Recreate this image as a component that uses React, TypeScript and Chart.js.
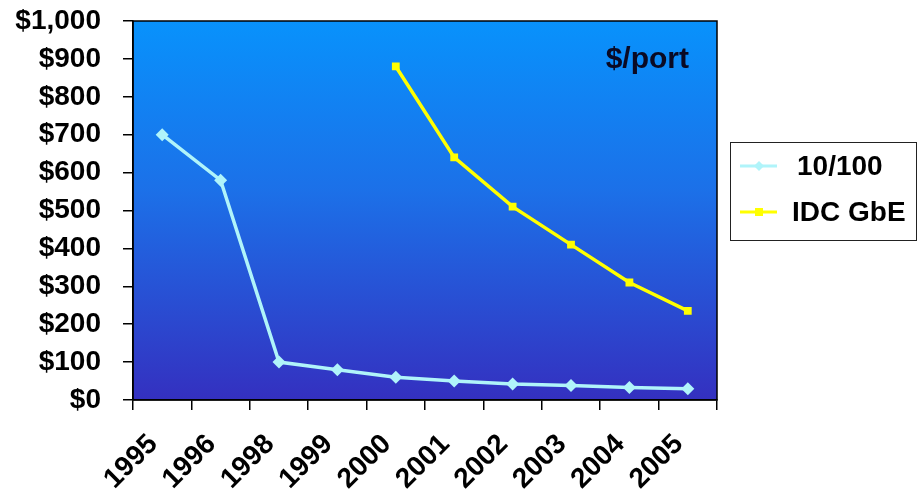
import React, { useEffect, useRef } from "react";
import { Chart, registerables } from "chart.js";

Chart.register(...registerables);

const years = ["1995", "1996", "1998", "1999", "2000", "2001", "2002", "2003", "2004", "2005"];
const fastEthernet = [700, 580, 100, 80, 60, 50, 42, 38, 33, 30];
const idcGbE = [null, null, null, null, 880, 640, 510, 410, 310, 235];
const yTicks = [0, 100, 200, 300, 400, 500, 600, 700, 800, 900, 1000];

const FONT = "'Liberation Sans', Arial, sans-serif";

const framePlugin = {
  id: "frame",
  beforeDraw(chart: any) {
    const { ctx, chartArea: a } = chart;
    const g = ctx.createLinearGradient(0, a.top, 0, a.bottom);
    g.addColorStop(0, "rgb(8,146,252)");
    g.addColorStop(0.45, "rgb(28,112,232)");
    g.addColorStop(1, "rgb(52,48,192)");
    ctx.save();
    ctx.fillStyle = g;
    ctx.fillRect(a.left, a.top, a.right - a.left, a.bottom - a.top);
    ctx.restore();
  },
  afterDraw(chart: any) {
    const { ctx, chartArea: a } = chart;
    ctx.save();
    ctx.strokeStyle = "#000";
    ctx.lineWidth = 1.5;
    ctx.strokeRect(a.left, a.top, a.right - a.left, a.bottom - a.top);

    // unit caption inside the plot
    ctx.fillStyle = "#0a0a24";
    ctx.font = `bold 30px ${FONT}`;
    ctx.textAlign = "right";
    ctx.textBaseline = "middle";
    ctx.fillText("$/port", 689, 60);

    // legend box
    const bx = 730, by = 142, bw = 186, bh = 98;
    ctx.fillStyle = "#fff";
    ctx.fillRect(bx, by, bw, bh);
    ctx.strokeStyle = "#222";
    ctx.lineWidth = 1;
    ctx.strokeRect(bx + 0.5, by + 0.5, bw, bh);

    const items = chart.data.datasets.map((ds: any, i: number) => ({
      label: ds.label,
      color: ds.borderColor,
      style: ds.pointStyle,
      y: by + 24 + i * 46,
      tx: i === 0 ? 797 : 792,
    }));
    items.forEach((it: any) => {
      ctx.strokeStyle = it.color;
      ctx.lineWidth = 3;
      ctx.beginPath();
      ctx.moveTo(740, it.y);
      ctx.lineTo(777, it.y);
      ctx.stroke();
      ctx.fillStyle = it.color;
      ctx.beginPath();
      if (it.style === "rectRot") {
        ctx.moveTo(759, it.y - 5);
        ctx.lineTo(764, it.y);
        ctx.lineTo(759, it.y + 5);
        ctx.lineTo(754, it.y);
        ctx.closePath();
      } else {
        ctx.rect(755, it.y - 4, 8, 8);
      }
      ctx.fill();
      ctx.fillStyle = "#000";
      ctx.font = `bold 28px ${FONT}`;
      ctx.textAlign = "left";
      ctx.textBaseline = "middle";
      ctx.fillText(it.label, it.tx, it.y + 1);
    });
    ctx.restore();
  },
};

export default function App() {
  const ref = useRef<HTMLCanvasElement>(null);

  useEffect(() => {
    if (!ref.current) return;
    const chart = new Chart(ref.current, {
      type: "line",
      data: {
        labels: years,
        datasets: [
          {
            label: "10/100",
            data: fastEthernet,
            borderColor: "rgb(176,244,250)",
            backgroundColor: "rgb(176,244,250)",
            borderWidth: 3.5,
            pointStyle: "rectRot",
            pointRadius: 6.5,
            pointBorderWidth: 0,
            tension: 0,
          },
          {
            label: "IDC GbE",
            data: idcGbE,
            borderColor: "rgb(255,255,0)",
            backgroundColor: "rgb(255,255,0)",
            borderWidth: 3.5,
            pointStyle: "rect",
            pointRadius: 5.5,
            pointBorderWidth: 0,
            tension: 0,
          },
        ],
      },
      options: {
        responsive: false,
        animation: false,
        layout: { padding: { top: 21, right: 203, bottom: 0, left: 0 } },
        plugins: { legend: { display: false }, tooltip: { enabled: false } },
        scales: {
          x: {
            type: "category",
            offset: true,
            grid: {
              offset: true,
              drawOnChartArea: false,
              drawTicks: true,
              tickLength: 10,
              color: "#000",
              lineWidth: 1.5,
            },
            border: { display: true, color: "#000", width: 1.5 },
            ticks: {
              minRotation: 45,
              maxRotation: 45,
              color: "#000",
              padding: 18,
              labelOffset: -9,
              font: { family: FONT, size: 28, weight: "bold" },
            },
            afterFit(scale: any) {
              scale.height = 95;
              scale.paddingLeft = 0;
              scale.paddingRight = 0;
            },
          },
          y: {
            min: 0,
            max: 1000,
            afterBuildTicks(scale: any) {
              scale.ticks = yTicks.map((v) => ({ value: v }));
            },
            grid: {
              drawOnChartArea: false,
              drawTicks: true,
              tickLength: 10,
              color: "#000",
              lineWidth: 1.5,
            },
            border: { display: true, color: "#000", width: 1.5 },
            ticks: {
              color: "#000",
              padding: 22,
              font: { family: FONT, size: 28, weight: "bold" },
              callback: (v: any) => "$" + Number(v).toLocaleString("en-US"),
            },
            afterFit(scale: any) {
              scale.width = 133;
              scale.paddingTop = 0;
              scale.paddingBottom = 0;
            },
          },
        },
      },
      plugins: [framePlugin],
    });
    return () => chart.destroy();
  }, []);

  return (
    <div style={{ position: "fixed", left: 0, top: 0, width: 920, height: 495, background: "#fff" }}>
      <canvas ref={ref} width={920} height={495} style={{ display: "block" }} />
    </div>
  );
}
